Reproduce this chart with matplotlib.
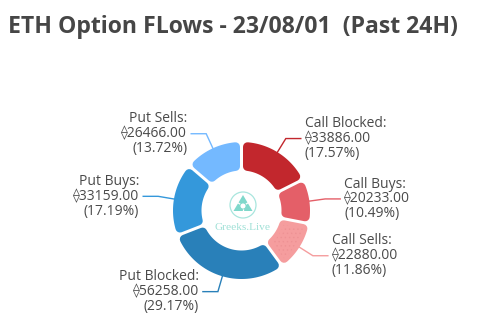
import numpy as np
import matplotlib
matplotlib.use("Agg")
import matplotlib.pyplot as plt
from matplotlib.patches import Polygon, Circle

plt.rcParams['font.family'] = ['Open Sans', 'DejaVu Sans']
plt.rcParams['hatch.linewidth'] = 0.5

# option flow volumes (ETH), clockwise from 12 o'clock
categories = ['Call Blocked', 'Call Buys', 'Call Sells', 'Put Blocked', 'Put Buys', 'Put Sells']
volumes = [33886.00, 20233.00, 22880.00, 56258.00, 33159.00, 26466.00]
colors = ['#c2272d', '#e45f68', '#f59d9e', '#2980b9', '#3498db', '#74b9ff']
title = 'ETH Option FLows - 23/08/01  (Past 24H)'

W, H = 489, 330
fig = plt.figure(figsize=(W / 100, H / 100), dpi=100)
ax = fig.add_axes([0, 0, 1, 1])
ax.set_xlim(0, W)
ax.set_ylim(H, 0)
ax.axis('off')

cx, cy = 241.5, 210.5
R_out, R_in = 68.5, 40
corner = 4.5
gap = 1.5


def pt(rho, deg):
    a = np.radians(deg)
    return cx + rho * np.cos(a), cy - rho * np.sin(a)


def rounded_sector(t1, t2, color, hatch=None):
    # shrink the ring segment, then stroke it with round joins to get soft corners
    d = gap + corner
    ro, ri = R_out - corner, R_in + corner
    ao = np.degrees(np.arcsin(d / ro))
    ai = np.degrees(np.arcsin(d / ri))
    outer = np.linspace(t1 + ao, t2 - ao, 60)
    inner = np.linspace(t2 - ai, t1 + ai, 40)
    xy = [pt(ro, t) for t in outer] + [pt(ri, t) for t in inner]
    ax.add_patch(Polygon(xy, closed=True, facecolor=color, edgecolor=color,
                         lw=2 * corner * 0.72, joinstyle='round', zorder=2))
    if hatch:
        ax.add_patch(Polygon(xy, closed=True, facecolor='none', edgecolor='#ee9294',
                             lw=0, hatch=hatch, zorder=3))


total = sum(volumes)
shares = [v / total * 100 for v in volumes]
start = 90.0
for i, (name, v, p, c) in enumerate(zip(categories, volumes, shares, colors)):
    span = p * 3.6
    t2, t1 = start, start - span
    rounded_sector(t1, t2, c, hatch='....' if name == 'Call Sells' else None)
    mid = (t1 + t2) / 2
    # leader line: radial piece then horizontal piece
    x0, y0 = pt(R_out - 1, mid)
    x1, y1 = pt(R_out + 16, mid)
    right = np.cos(np.radians(mid)) >= 0
    x2 = x1 + 15 if right else x1 - 15
    ax.plot([x0, x1, x2], [y0, y1, y1], color=c, lw=1, zorder=1,
            solid_joinstyle='miter')
    label = f'{name}:\n\u27e0{v:.2f}\n({p:.2f}%)'
    ax.text(x2 + 4 if right else x2 - 4, y1, label,
            ha='left' if right else 'right', va='center',
            multialignment='left' if right else 'right',
            fontsize=10, color='#4a4a4a', linespacing=0.99, zorder=4)
    start = t1

# centre logo
teal = '#7fd8cb'
lx, ly = 243, 205
ax.add_patch(Circle((lx, ly), 13, facecolor='none', edgecolor='#a9e6de', lw=0.9, zorder=3))
tri = np.array([[lx, ly - 10], [lx + 9.5, ly + 6], [lx - 9.5, ly + 6]])
ax.add_patch(Polygon(tri, closed=True, facecolor=teal, edgecolor='none', zorder=3))
for k in range(3):
    a, b = tri[k], tri[(k + 1) % 3]
    m = (a + b) / 2
    ax.plot([m[0], (lx + m[0]) / 2], [m[1], (ly + 1 + m[1]) / 2], color='white', lw=0.9, zorder=4)
ax.add_patch(Circle((lx, ly + 1), 3, facecolor='white', edgecolor=teal, lw=0.6, zorder=4))
ax.text(lx - 0.5, 227, 'Greeks.Live', ha='center', va='center', fontsize=8.2,
        family=['Liberation Serif'], color='#9fe0d6', zorder=4)

fig.text(8 / W, 1 - 27 / H, title, ha='left', va='center', fontsize=16.6,
         fontweight='bold', color='#464646')

fig.savefig('out.png', dpi=100, facecolor='white')
